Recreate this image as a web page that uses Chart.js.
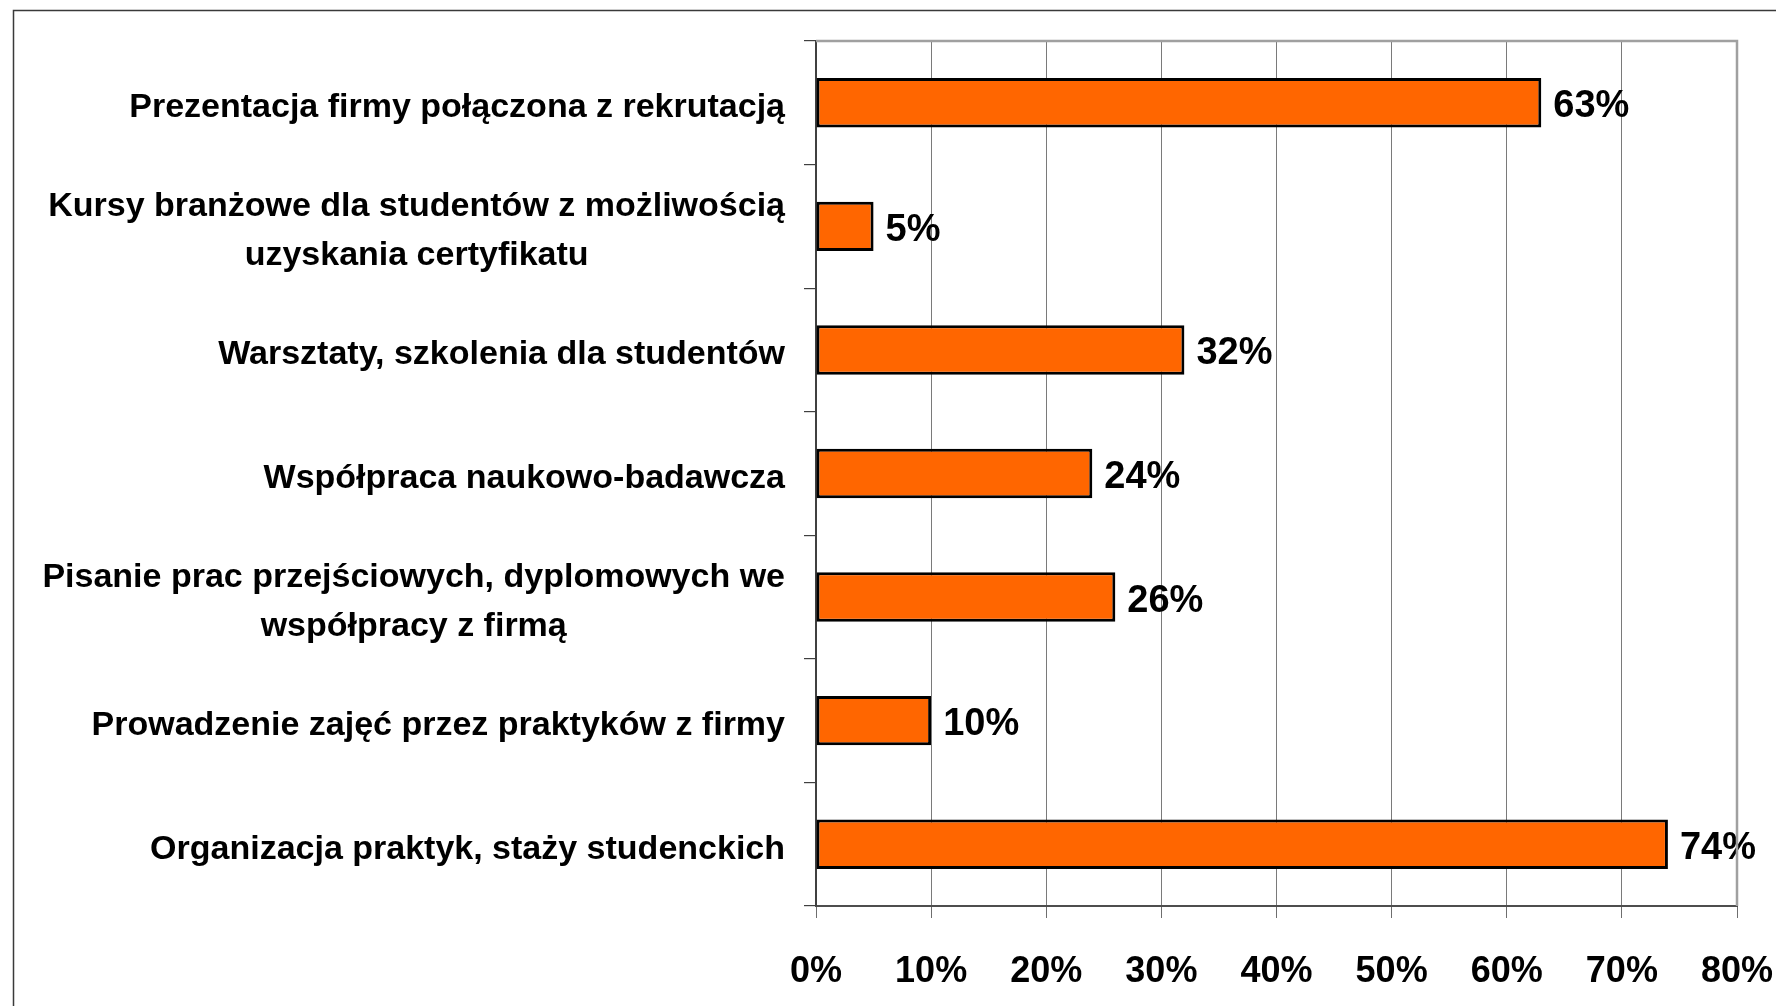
<!DOCTYPE html>
<html>
<head>
<meta charset="utf-8">
<script src="https://cdn.jsdelivr.net/npm/chart.js@4.4.0/dist/chart.umd.min.js"></script>
<style>
  html, body { margin: 0; padding: 0; background: #fff; overflow: hidden; }
  #wrap { width: 1776px; height: 1006px; position: relative; }
</style>
</head>
<body>
<div id="wrap"><canvas id="chart-1"></canvas></div>
<script>
// categories (one array of lines per bar, top to bottom)
const categories = [
  ["Prezentacja firmy połączona z rekrutacją"],
  ["Kursy branżowe dla studentów z możliwością", "uzyskania certyfikatu"],
  ["Warsztaty, szkolenia dla studentów"],
  ["Współpraca naukowo-badawcza"],
  ["Pisanie prac przejściowych, dyplomowych we", "współpracy z firmą"],
  ["Prowadzenie zajęć przez praktyków z firmy"],
  ["Organizacja praktyk, staży studenckich"]
];
// share of answers, %
const shares = [63, 5, 32, 24, 26, 10, 74];
// x axis range and step, %
const xMin = 0;
const xMax = 80;
const xStep = 10;

const FONT = "'Liberation Sans', Arial, sans-serif";

// outer frame + plot area border
const framePlugin = {
  id: "frame",
  beforeDraw(chart) {
    const ctx = chart.ctx;
    ctx.save();
    ctx.fillStyle = "#fff";
    ctx.fillRect(0, 0, chart.width, chart.height);
    ctx.strokeStyle = "#3a3a3a";
    ctx.lineWidth = 1.5;
    ctx.beginPath();
    ctx.moveTo(13.5, chart.height);
    ctx.lineTo(13.5, 10.5);
    ctx.lineTo(chart.width, 10.5);
    ctx.stroke();
    ctx.restore();
  },
  afterDraw(chart) {
    const { ctx, chartArea } = chart;
    ctx.save();
    ctx.strokeStyle = "#a0a0a0";
    ctx.lineWidth = 2.5;
    ctx.beginPath();
    ctx.moveTo(chartArea.left, chartArea.top);
    ctx.lineTo(chartArea.right, chartArea.top);
    ctx.lineTo(chartArea.right, chartArea.bottom);
    ctx.stroke();
    ctx.restore();
  }
};

// category labels: block right aligned to the axis, lines centered inside the block
const catLabelPlugin = {
  id: "catLabels",
  afterDraw(chart) {
    const ctx = chart.ctx;
    const yScale = chart.scales.y;
    const right = 785;
    const lineH = 49;
    ctx.save();
    ctx.font = "bold 34px " + FONT;
    ctx.fillStyle = "#000";
    ctx.textAlign = "center";
    ctx.textBaseline = "middle";
    categories.forEach((lines, i) => {
      const y = yScale.getPixelForValue(i) + 5;
      const w = Math.max(...lines.map((l) => ctx.measureText(l).width));
      const cx = right - w / 2;
      lines.forEach((l, k) => {
        ctx.fillText(l, cx, y + (k - (lines.length - 1) / 2) * lineH);
      });
    });
    ctx.restore();
  }
};

// value labels at the end of each bar
const valueLabelPlugin = {
  id: "valueLabels",
  afterDatasetsDraw(chart) {
    const ctx = chart.ctx;
    const meta = chart.getDatasetMeta(0);
    ctx.save();
    ctx.font = "bold 38px " + FONT;
    ctx.fillStyle = "#000";
    ctx.textAlign = "left";
    ctx.textBaseline = "middle";
    meta.data.forEach((bar, i) => {
      ctx.fillText(shares[i] + "%", bar.x + 12, bar.y + 4);
    });
    ctx.restore();
  }
};

const ctx = document.getElementById("chart-1").getContext("2d");
const myChart = new Chart(ctx, {
  type: "bar",
  data: {
    labels: categories.map((c) => c.join(" ")),
    datasets: [
      {
        label: "Odpowiedzi",
        data: shares,
        backgroundColor: "#FF6600",
        borderColor: "#000000",
        borderWidth: 3,
        borderSkipped: false,
        barPercentage: 0.4,
        categoryPercentage: 1
      }
    ]
  },
  options: {
    indexAxis: "y",
    responsive: true,
    maintainAspectRatio: false,
    animation: false,
    layout: { padding: { top: 41, right: 39, left: 0, bottom: 0 } },
    plugins: {
      legend: { display: false },
      tooltip: { enabled: false }
    },
    scales: {
      x: {
        min: xMin,
        max: xMax,
        ticks: {
          stepSize: xStep,
          callback: (v) => v + "%",
          color: "#000",
          font: { family: FONT, size: 36, weight: "bold" },
          padding: 32,
          maxRotation: 0
        },
        grid: {
          color: "#7a7a7a",
          lineWidth: 1,
          tickLength: 12,
          tickColor: "#6e6e6e"
        },
        border: { display: true, color: "#4d4d4d", width: 2 },
        afterFit(scale) {
          scale.height = 100;
          scale.paddingLeft = 0;
          scale.paddingRight = 0;
        }
      },
      y: {
        grid: {
          offset: true,
          drawOnChartArea: false,
          tickLength: 12,
          color: "#404040",
          lineWidth: 1.2
        },
        ticks: { color: "rgba(0,0,0,0)", font: { size: 10 } },
        border: { display: true, color: "#404040", width: 2 },
        afterFit(scale) {
          scale.width = 816;
          scale.paddingTop = 0;
          scale.paddingBottom = 0;
        }
      }
    }
  },
  plugins: [framePlugin, catLabelPlugin, valueLabelPlugin]
});
</script>
</body>
</html>
